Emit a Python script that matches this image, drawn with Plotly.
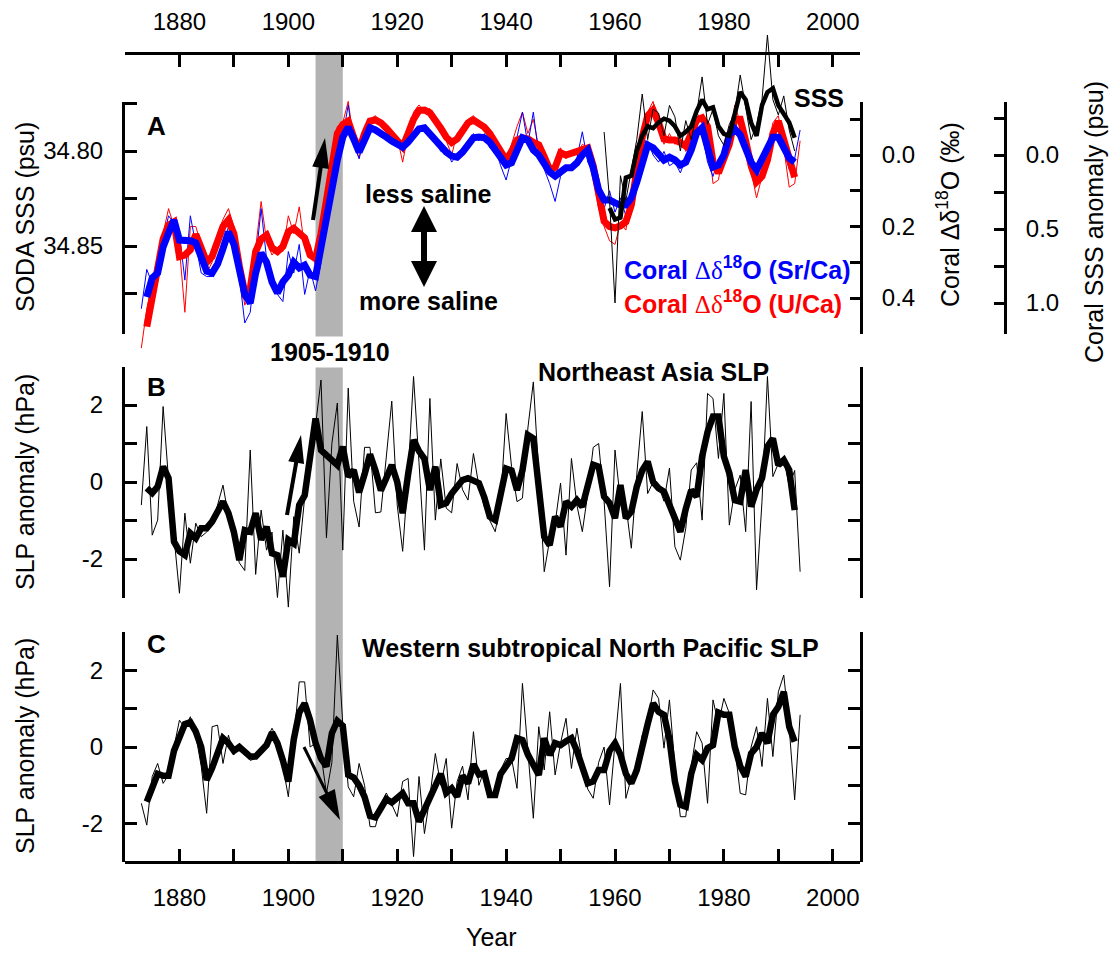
import math
import plotly.graph_objects as go

W, H = 1118, 953

# ---------------- data ----------------
years_coral_thin = list(range(1873, 1995))
sr_thin = [0.43, 0.32, 0.36, 0.33, 0.24, 0.17, 0.19, 0.22, 0.35, 0.17,
           0.25, 0.33, 0.34, 0.34, 0.30, 0.26, 0.20, 0.24, 0.34, 0.47,
           0.44, 0.30, 0.15, 0.29, 0.37, 0.39, 0.41, 0.27, 0.33, 0.25,
           0.39, 0.32, 0.38, 0.30, 0.13, 0.07, -0.02, -0.05, -0.14, -0.03,
           0.01, -0.05, -0.08, -0.07, -0.05, -0.06, -0.03, -0.04, -0.01, -0.05,
           -0.06, -0.08, -0.07, -0.05, -0.04, -0.01, -0.02, 0.02, 0.00, -0.02,
           -0.03, -0.06, -0.04, -0.06, -0.02, -0.02, 0.03, 0.07, 0.01, -0.05,
           -0.12, -0.03, -0.12, 0.00, 0.04, 0.08, 0.13, 0.06, 0.03, 0.04,
           0.01, -0.065, 0.02, 0.05, 0.12, 0.15, 0.10, 0.16, 0.12, 0.17,
           0.11, 0.07, 0.00, -0.04, 0.00, 0.02, -0.01, 0.03, 0.02, 0.05,
           0.01, -0.03, -0.08, -0.06, 0.02, 0.06, 0.01, 0.02, -0.08, -0.06,
           -0.07, 0.00, 0.05, 0.07, 0.02, -0.03, -0.06, -0.04, -0.01, 0.04,
           0.01, -0.07]
u_thin = [0.54, 0.43, 0.36, 0.28, 0.22, 0.15, 0.20, 0.26, 0.44, 0.20,
          0.20, 0.25, 0.33, 0.30, 0.22, 0.18, 0.15, 0.20, 0.32, 0.42,
          0.39, 0.26, 0.13, 0.24, 0.28, 0.26, 0.27, 0.17, 0.22, 0.145,
          0.26, 0.25, 0.31, 0.24, 0.10, 0.00, -0.08, -0.09, -0.15, -0.04,
          0.01, -0.08, -0.10, -0.11, -0.08, -0.08, -0.04, -0.05, 0.02, -0.06,
          -0.12, -0.14, -0.12, -0.13, -0.09, -0.06, -0.04, 0.00, -0.06, -0.08,
          -0.10, -0.11, -0.08, -0.07, -0.05, -0.02, 0.00, 0.02, -0.03, -0.08,
          -0.12, -0.06, -0.10, -0.02, 0.02, 0.05, 0.02, -0.02, 0.01, -0.01,
          0.00, -0.03, -0.02, 0.07, 0.15, 0.20, 0.24, 0.25, 0.19, 0.21,
          0.12, 0.01, -0.07, -0.12, -0.15, -0.07, -0.03, -0.06, -0.03, -0.05,
          -0.01, -0.08, -0.12, -0.09, -0.06, 0.08, 0.07, -0.02, -0.04, -0.14,
          -0.09, -0.03, 0.05, 0.12, 0.06, -0.01, -0.09, -0.11, -0.02, 0.09,
          0.08, -0.04]

years_coral_thick = list(range(1874, 1994))
sr_thick = [0.397, 0.344, 0.33, 0.257, 0.218, 0.182, 0.238, 0.238, 0.24, 0.246,
            0.29, 0.325, 0.33, 0.305, 0.262, 0.215, 0.25, 0.32, 0.39, 0.414,
            0.33, 0.274, 0.30, 0.355, 0.386, 0.355, 0.336, 0.30, 0.316, 0.308,
            0.336, 0.34, 0.26, 0.16, 0.09, 0.014, -0.05, -0.078, -0.045, -0.008,
            -0.042, -0.076, -0.07, -0.062, -0.05, -0.039, -0.031, -0.022, -0.036, -0.056,
            -0.073, -0.076, -0.059, -0.042, -0.022, -0.008, 0.003, 0.006, -0.008, -0.028,
            -0.048, -0.05, -0.048, -0.036, -0.014, 0.014, 0.028, 0.022, -0.02, -0.048,
            -0.042, -0.014, 0.0, 0.02, 0.048, 0.059, 0.048, 0.036, 0.036, 0.022,
            0.0, -0.014, 0.036, 0.098, 0.126, 0.126, 0.134, 0.14, 0.14, 0.12,
            0.076, 0.014, -0.028, -0.02, 0.0, 0.014, 0.006, 0.014, 0.028, 0.02,
            -0.014, -0.062, -0.076, -0.02, 0.034, 0.028, 0.0, -0.056, -0.073, -0.056,
            -0.02, 0.02, 0.042, 0.014, -0.02, -0.05, -0.05, -0.02, 0.008, 0.02]
u_thick = [0.48, 0.39, 0.30, 0.235, 0.196, 0.187, 0.284, 0.28, 0.265, 0.222,
           0.26, 0.30, 0.284, 0.24, 0.20, 0.182, 0.22, 0.31, 0.386, 0.375,
           0.27, 0.235, 0.224, 0.26, 0.27, 0.256, 0.215, 0.205, 0.218, 0.232,
           0.28, 0.29, 0.22, 0.12, 0.02, -0.06, -0.085, -0.095, -0.05, -0.014,
           -0.06, -0.095, -0.098, -0.09, -0.075, -0.055, -0.035, -0.023, -0.06, -0.10,
           -0.125, -0.126, -0.118, -0.10, -0.075, -0.05, -0.035, -0.045, -0.07, -0.09,
           -0.098, -0.088, -0.078, -0.06, -0.035, -0.01, 0.014, -0.01, -0.042, -0.048,
           -0.045, -0.035, -0.028, 0.005, 0.04, 0.035, -0.006, 0.0, -0.005, -0.01,
           -0.018, -0.02, 0.03, 0.12, 0.185, 0.20, 0.204, 0.198, 0.187, 0.14,
           0.03, -0.05, -0.11, -0.126, -0.09, -0.045, -0.042, -0.042, -0.035, -0.025,
           -0.06, -0.098, -0.104, -0.08, 0.02, 0.05, 0.01, -0.03, -0.10, -0.10,
           -0.04, 0.03, 0.075, 0.06, 0.014, -0.06, -0.095, -0.04, 0.02, 0.062]

years_sss_thin = list(range(1958, 1994))
sss_thin = [34.790, 34.826, 34.880, 34.813, 34.826, 34.810, 34.794, 34.770, 34.794, 34.778,
            34.780, 34.792, 34.776, 34.782, 34.800, 34.784, 34.794, 34.780, 34.761, 34.786,
            34.778, 34.792, 34.797, 34.786, 34.780, 34.760, 34.778, 34.794, 34.786, 34.773,
            34.739, 34.773, 34.781, 34.771, 34.789, 34.800]
years_sss_thick = list(range(1959, 1994))
sss_thick = [34.830, 34.836, 34.835, 34.814, 34.813, 34.800, 34.792, 34.787, 34.788, 34.785,
             34.783, 34.784, 34.787, 34.792, 34.790, 34.787, 34.779, 34.773, 34.778, 34.777,
             34.787, 34.791, 34.792, 34.780, 34.769, 34.773, 34.785, 34.792, 34.776, 34.769,
             34.767, 34.776, 34.781, 34.785, 34.793]

years_slp_thin = list(range(1873, 1995))
ne_thin = [-0.6, 1.44, -1.38, -0.99, 1.96, 0.05, -1.42, -2.89, -0.81, -2.11,
           -1.07, -1.42, -1.3, -1.1, -0.6, -0.08, -0.9, -1.5, -2.1, -2.3,
           0.83, -2.4, -0.73, -1.77, -1.3, -3.0, -1.25, -3.25, -0.9, -1.85,
           -0.4, 0.3, 1.5, 2.65, -1.45, 1.0, 2.05, -1.77, 2.44, -0.5,
           -1.17, 0.9, 0.9, -0.8, -0.78, 0.7, 2.1, -0.6, -1.8, 0.2,
           2.74, 0.5, -1.77, 2.17, -0.99, 0.6, -0.68, -0.8, 0.48, -0.2,
           -0.47, 0.74, -0.1, -0.64, -1.0, -1.29, -0.5, 1.78, 0.4, -0.51,
           -0.42, 1.4, 2.6, 0.2, -2.33, -1.5, -1.07, -0.03, -1.9, 0.61,
           -0.6, -1.29, -0.3, 0.9, 1.0, -0.5, -2.72, 0.83, -0.5, -0.6,
           -1.72, 0.2, 1.83, -0.3, 0.0, -0.1, -0.5, 0.36, -1.68, -2.03,
           -1.2, 0.31, 0.5, -0.99, 2.3, 2.17, 0.61, 2.3, -1.12, -0.2,
           0.18, -1.29, 2.09, -2.8, -0.5, 2.74, 0.14, 0.48, 0.57, -0.1,
           0.3, -2.33]
wp_thin = [-1.47, -2.04, -0.77, -0.43, -0.95, -0.73, 0.0, 0.7, 0.5, 0.79,
           0.3, -0.5, -1.73, 0.53, 0.57, -0.43, 0.31, -0.2, 0.05, -0.2,
           -0.35, -0.3, -0.1, 0.2, 0.49, 0.2, -0.5, -1.3, 0.3, 1.7,
           1.7, 0.0, 0.1, -0.2, -1.21, -0.4, 2.92, 0.6, -1.04, -1.3,
           -0.43, -1.0, -2.08, -2.08, -1.5, -1.2, -1.5, -1.82, -0.9, -0.82,
           -2.86, -0.77, -2.26, -1.3, -0.17, -1.0, -0.3, -2.12, -0.9, -0.5,
           -1.38, 0.4, -1.0, -0.6, -1.3, -1.2, -0.6, -0.3, -0.3, -1.08,
           1.66, -0.1, -1.86, 0.53, -0.6, 0.92, -0.73, 0.1, 0.75, -0.56,
           0.49, -0.4, -1.1, -1.34, -0.4, 0.0, -1.51, 0.1, 1.66, -1.34,
           -0.8, -0.5, 0.3, 0.6, 1.49, 1.27, -0.03, 1.23, -0.5, -1.82,
           -1.82, -0.5, 0.4, 0.1, -1.47, 1.23, 0.6, 1.27, 0.88, 0.0,
           -1.21, -1.25, 0.0, 0.53, -0.51, 1.27, -0.25, 1.44, 1.88, 0.5,
           -1.38, 0.84]

years_slp_thick = list(range(1874, 1994))
ne_thick = [-0.16, -0.29, -0.12, 0.4, 0.1, -1.55, -1.8, -1.9, -1.33, -1.46,
            -1.2, -1.2, -1.03, -0.8, -0.51, -0.81, -1.3, -2.03, -1.25, -1.29,
            -0.81, -1.5, -1.16, -1.85, -1.9, -2.46, -1.5, -1.6, -0.6, -0.35,
            0.7, 1.65, 0.83, 0.7, 0.55, 0.44, 0.92, 0.14, 0.31, -0.27,
            0.2, 0.72, 0.3, -0.22, 0.1, 0.44, 0.0, -0.81, 0.2, 1.09,
            0.8, 0.6, -0.21, 0.4, -0.6, -0.55, -0.3, -0.1, 0.05, 0.1,
            0.05, -0.03, -0.4, -0.9, -0.99, -0.3, 0.35, 0.3, -0.21, 0.3,
            1.22, 1.13, -0.3, -1.42, -1.64, -0.9, -1.16, -0.51, -0.64, -0.47,
            -0.64, -0.1, 0.45, 0.4, -0.38, -0.55, -0.94, -0.08, -0.94, -0.77,
            -0.12, 0.3, 0.53, 0.0, -0.16, -0.25, -0.6, -1.0, -1.29, -0.7,
            -0.21, -0.38, 0.66, 1.3, 1.7, 1.7, 0.66, 0.23, -0.47, -0.51,
            0.31, -0.64, -0.2, 0.1, 0.92, 1.13, 0.44, 0.57, 0.31, -0.73]
wp_thick = [-1.43, -1.0, -0.7, -0.75, -0.75, -0.1, 0.3, 0.6, 0.65, 0.4,
            0.0, -0.86, -0.55, -0.1, 0.23, 0.1, -0.1, 0.0, -0.15, -0.25,
            -0.25, -0.1, 0.05, 0.38, 0.1, -0.35, -0.9, 0.2, 0.9, 1.14,
            0.7, 0.1, -0.3, -0.51, 0.36, 0.68, 0.55, -0.73, -0.8, -1.0,
            -1.3, -1.8, -1.84, -1.6, -1.36, -1.45, -1.35, -1.21, -1.47, -1.47,
            -1.95, -1.64, -1.35, -1.0, -0.7, -1.2, -1.08, -1.3, -0.75, -0.95,
            -0.45, -0.72, -0.69, -1.25, -1.25, -0.7, -0.5, -0.3, 0.23, 0.18,
            -0.2, -0.5, -0.73, 0.23, -0.21, 0.1, 0.05, 0.15, 0.23, -0.1,
            -0.5, -0.95, -0.9, -0.6, -0.6, -0.1, 0.1, -0.2, -0.7, -0.95,
            -0.6, 0.1, 0.6, 1.14, 0.92, 0.84, 0.2, -0.9, -1.51, -1.56,
            -0.7, -0.21, -0.34, -0.03, 0.05, 0.9, 0.84, 0.84, 0.0, -0.5,
            -0.77, -0.17, 0.0, 0.36, 0.1, 0.84, 1.05, 1.44, 0.53, 0.14]

x_range = [1870, 2005]
event_years = [1905, 1910]
bottom_ticks = list(range(1880, 2001, 10))
top_ticks = list(range(1870, 2001, 10))
sss_ticks = [34.775, 34.80, 34.825, 34.85, 34.875]
sss_ticktext = ["", "34.80", "", "34.85", ""]
d18o_ticks = [-0.1, 0.0, 0.1, 0.2, 0.3, 0.4, 0.5]
d18o_ticktext = ["", "0.0", "", "0.2", "", "0.4", ""]
anom_ticks = [-0.25, 0.0, 0.25, 0.5, 0.75, 1.0]
anom_ticktext = ["", "0.0", "", "0.5", "", "1.0"]
slp_ticks = [-3, -2, -1, 0, 1, 2, 3]
slp_ticktext = ["", "-2", "", "0", "", "2", ""]

# ---------------- layout helpers (pixel geometry) ----------------
def P(y):
    return 1 - y / H

def Q(x):
    return x / W

def lin(p1, v1, p2, v2):
    k = (v2 - v1) / (p2 - p1)
    return lambda p: v1 + (p - p1) * k

FONT = "Liberation Sans, Arial, sans-serif"
TICK_SIZE = 24
TXT_SIZE = 25
XL, XR = 125, 860
xdom = [Q(XL), Q(XR)]

# pixel -> value maps
f_sss = lin(151, 34.80, 246, 34.85)
f_d18 = lin(155, 0.0, 298, 0.4)
f_anom = lin(155, 0.0, 303, 1.0)
f_b = lin(482, 0.0, 405, 2.0)
f_c = lin(747, 0.0, 670.4, 2.0)
# value -> pixel for slp panels
pix_b = lin(0.0, 482, 2.0, 405)
pix_c = lin(0.0, 747, 2.0, 670.4)

A_TOP, A_BOT = 102, 334
A_DTOP, A_DBOT = 20, 352
B_DTOP, B_DBOT = 345, 625
C_DTOP, C_DBOT = 615, 885
C_AX = pix_c(-3)

axc = dict(showgrid=False, zeroline=False, showline=True, linecolor="black",
           linewidth=3, ticks="inside", tickwidth=3, ticklen=12,
           tickcolor="black", tickfont=dict(family=FONT, size=TICK_SIZE, color="black"),
           autorange=False, fixedrange=True)
hidden = dict(visible=False, showgrid=False, zeroline=False, autorange=False, fixedrange=True)

fig = go.Figure()

def line(x, y, xa, ya, color, width):
    fig.add_trace(go.Scatter(x=x, y=y, mode="lines", xaxis=xa, yaxis=ya,
                             line=dict(color=color, width=width),
                             showlegend=False, hoverinfo="skip"))

# Panel A coral (base axis y)
line(years_coral_thin[:len(u_thin)], u_thin, "x", "y", "#ff0000", 1)
line(years_coral_thin[:len(sr_thin)], sr_thin, "x", "y", "#0000ff", 1)
line(years_coral_thick[:len(u_thick)], u_thick, "x", "y", "#ff0000", 7)
line(years_coral_thick[:len(sr_thick)], sr_thick, "x", "y", "#0000ff", 7)
# Panel A SODA SSS (overlay y2)
line(years_sss_thin[:len(sss_thin)], sss_thin, "x", "y2", "black", 1)
line(years_sss_thick[:len(sss_thick)], sss_thick, "x", "y2", "black", 4.5)
# Panel B
line(years_slp_thin[:len(ne_thin)], ne_thin, "x", "y3", "black", 1)
line(years_slp_thick[:len(ne_thick)], ne_thick, "x", "y3", "black", 6.5)
# Panel C
line(years_slp_thin[:len(wp_thin)], wp_thin, "x", "y4", "black", 1)
line(years_slp_thick[:len(wp_thick)], wp_thick, "x", "y4", "black", 6.5)

# dummy traces so the visible axes exist
for xa, ya in [("x", "y5"), ("x", "y6"), ("x", "y7"), ("x", "y8"), ("x", "y10"), ("x2", "y5")]:
    fig.add_trace(go.Scatter(x=[None], y=[None], xaxis=xa, yaxis=ya, mode="lines",
                             showlegend=False, hoverinfo="skip"))

layout = dict(
    width=W, height=H, template="none",
    margin=dict(l=0, r=0, t=0, b=0, pad=0),
    paper_bgcolor="white", plot_bgcolor="rgba(0,0,0,0)",
    showlegend=False,
    font=dict(family=FONT, size=TICK_SIZE, color="black"),
    xaxis=dict(domain=xdom, range=x_range, anchor="free", position=P(C_AX), side="bottom",
               tickvals=bottom_ticks, ticktext=[str(v) if v % 20 == 0 else "" for v in bottom_ticks],
               ticklabelstandoff=13, **axc),
    xaxis2=dict(overlaying="x", range=x_range, anchor="free", position=P(53), side="top",
                tickvals=top_ticks, ticktext=[str(v) if v % 20 == 0 else "" for v in top_ticks],
                ticklabelstandoff=12, **axc),
    # data axes (hidden, extended domains)
    yaxis=dict(domain=[P(A_DBOT), P(A_DTOP)], range=[f_d18(A_DBOT), f_d18(A_DTOP)], anchor="x", **hidden),
    yaxis2=dict(overlaying="y", range=[f_sss(A_DBOT), f_sss(A_DTOP)], anchor="x", **hidden),
    yaxis3=dict(domain=[P(B_DBOT), P(B_DTOP)], range=[f_b(B_DBOT), f_b(B_DTOP)], anchor="x", **hidden),
    yaxis4=dict(domain=[P(C_DBOT), P(C_DTOP)], range=[f_c(C_DBOT), f_c(C_DTOP)], anchor="x", **hidden),
    # visible axes
    yaxis5=dict(domain=[P(A_BOT), P(A_TOP)], range=[f_sss(A_BOT), f_sss(A_TOP)], anchor="x", side="left",
                tickvals=sss_ticks, ticktext=sss_ticktext, ticklabelstandoff=14, **axc),
    yaxis6=dict(overlaying="y5", range=[f_d18(A_BOT), f_d18(A_TOP)], anchor="x", side="right",
                tickvals=d18o_ticks, ticktext=d18o_ticktext, ticklabelstandoff=14,
                **{**axc, "ticklen": 10}),
    yaxis7=dict(overlaying="y5", range=[f_anom(A_BOT), f_anom(A_TOP)], anchor="free", position=Q(1005),
                side="right", tickvals=anom_ticks, ticktext=anom_ticktext, ticklabelstandoff=14,
                **{**axc, "ticklen": 10}),
    yaxis8=dict(domain=[P(pix_b(-3)), P(pix_b(3))], range=[-3, 3], anchor="x", side="left",
                tickvals=slp_ticks, ticktext=slp_ticktext, mirror="ticks", ticklabelstandoff=14, **axc),
    yaxis10=dict(domain=[P(C_AX), P(pix_c(3))], range=[-3, 3], anchor="x", side="left",
                 tickvals=slp_ticks, ticktext=slp_ticktext, mirror="ticks", ticklabelstandoff=14, **axc),
)
fig.update_layout(**layout)

# gray band 1905-1910 over all panels
shapes = [dict(type="rect", xref="x", yref="paper", x0=event_years[0], x1=event_years[1],
               y0=P(C_AX), y1=P(55), fillcolor="#b3b3b3", line=dict(width=0), layer="below")]

def arrow(x0, y0, x1, y1, w=4, hl=28, hw=16):
    dx, dy = x1 - x0, y1 - y0
    L = math.hypot(dx, dy)
    ux, uy = dx / L, dy / L
    bx, by = x1 - ux * hl, y1 - uy * hl
    nx, ny = -uy, ux
    shapes.append(dict(type="line", xref="paper", yref="paper", x0=Q(x0), y0=P(y0),
                       x1=Q(bx + ux * 3), y1=P(by + uy * 3), line=dict(color="black", width=w)))
    path = "M {},{} L {},{} L {},{} Z".format(
        Q(x1), P(y1), Q(bx + nx * hw / 2), P(by + ny * hw / 2), Q(bx - nx * hw / 2), P(by - ny * hw / 2))
    shapes.append(dict(type="path", xref="paper", yref="paper", path=path,
                       fillcolor="black", line=dict(color="black", width=0)))

arrow(313, 220, 325, 138, w=4, hl=30, hw=17)
arrow(287, 515, 301, 435, w=4, hl=28, hw=16)
arrow(304, 747, 340, 820, w=3, hl=30, hw=18)
arrow(424, 250, 424, 206, w=6, hl=26, hw=26)
arrow(424, 244, 424, 287, w=6, hl=26, hw=26)

fig.update_layout(shapes=shapes)

def ann(text, x, y, size=TXT_SIZE, color="black", xanchor="center", yanchor="middle", angle=0, **kw):
    fig.add_annotation(text=text, x=Q(x), y=P(y), xref="paper", yref="paper", showarrow=False,
                       xanchor=xanchor, yanchor=yanchor, textangle=angle,
                       font=dict(family=FONT, size=size, color=color), **kw)

DD = "<span style=\"font-family:'Liberation Serif', serif;font-weight:normal\">\u0394\u03b4</span>"
ann("<b>A</b>", 156, 126, size=26)
ann("<b>B</b>", 156, 387, size=26)
ann("<b>C</b>", 156, 644, size=26)
ann("<b>SSS</b>", 819, 98)
ann("<b>less saline</b>", 428, 194)
ann("<b>more saline</b>", 428, 301)
ann("<b>Coral " + DD + "<sup>18</sup>O (Sr/Ca)</b>", 622, 268, color="#0000ff", xanchor="left")
ann("<b>Coral " + DD + "<sup>18</sup>O (U/Ca)</b>", 622, 302, color="#ff0000", xanchor="left")
ann("<b>1905-1910</b>", 330, 352, bgcolor="white", borderpad=1)
ann("<b>Northeast Asia SLP</b>", 653, 372)
ann("<b>Western subtropical North Pacific SLP</b>", 590, 648)
ann("SODA SSS (psu)", 25, 217, angle=-90)
ann("SLP anomaly (hPa)", 25, 482, angle=-90)
ann("SLP anomaly (hPa)", 25, 746, angle=-90)
ann("Coral \u0394\u03b4<sup>18</sup>O (\u2030)", 948, 215, angle=-90)
ann("Coral SSS anomaly (psu)", 1094, 222, angle=-90)
ann("Year", 491, 937)

fig.write_html("out.html")
